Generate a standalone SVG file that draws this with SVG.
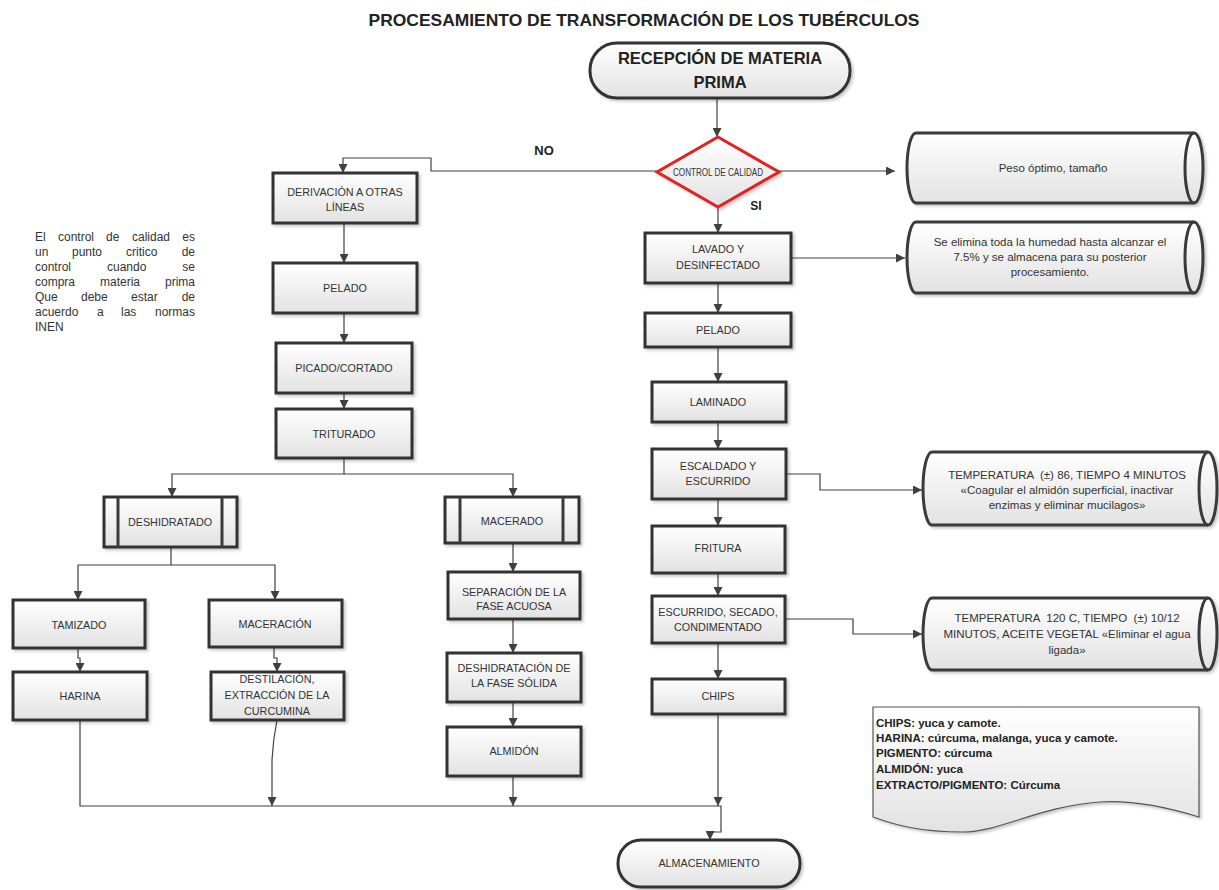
<svg xmlns="http://www.w3.org/2000/svg" width="1219" height="890" viewBox="0 0 1219 890">
<defs>
<linearGradient id="g" x1="0" y1="0" x2="0" y2="1">
<stop offset="0" stop-color="#ffffff"/>
<stop offset="1" stop-color="#e2e2e2"/>
</linearGradient>
<filter id="sh" x="-10%" y="-10%" width="130%" height="150%">
<feDropShadow dx="2" dy="2" stdDeviation="1.5" flood-color="#000" flood-opacity="0.22"/>
</filter>
<marker id="ar" viewBox="0 0 10 10" refX="10" refY="5" markerWidth="9" markerHeight="9" markerUnits="userSpaceOnUse" orient="auto">
<path d="M0,0 L10,5 L0,10 z" fill="#404040"/>
</marker>
</defs>
<style>
.box{fill:url(#g);stroke:#333;stroke-width:3;filter:url(#sh)}
.cyl{fill:url(#g);stroke:#3a3a3a;stroke-width:3;filter:url(#sh)}
.in{fill:none;stroke:#3a3a3a;stroke-width:3}
.t{font-family:'Liberation Sans',Arial,sans-serif;font-size:10.8px;fill:#333;text-anchor:middle;dominant-baseline:central}
.tb{font-family:'Liberation Sans',Arial,sans-serif;font-weight:bold;fill:#222;text-anchor:middle;dominant-baseline:central}
.c{font-family:'Liberation Sans',Arial,sans-serif;font-size:11.5px;fill:#333;text-anchor:middle;dominant-baseline:central;white-space:pre}
.n{font-family:'Liberation Sans',Arial,sans-serif;font-size:12px;fill:#333;dominant-baseline:central}
.d{font-family:'Liberation Sans',Arial,sans-serif;font-size:11.5px;font-weight:bold;fill:#222;dominant-baseline:central}
.conn path{fill:none;stroke:#404040;stroke-width:1.2}
</style>
<rect width="1219" height="890" fill="#ffffff"/>

<text class="tb" x="644" y="20" font-size="17.3" textLength="551" lengthAdjust="spacingAndGlyphs">PROCESAMIENTO DE TRANSFORMACIÓN DE LOS TUBÉRCULOS</text>

<g id="connectors" class="conn">
<path d="M717,98 V137" marker-end="url(#ar)"/>
<path d="M657,171 H431 V158 H343 V173" marker-end="url(#ar)"/>
<path d="M779,171 H895" marker-end="url(#ar)"/>
<path d="M718,207 V233" marker-end="url(#ar)"/>
<path d="M791,258 H905" marker-end="url(#ar)"/>
<path d="M718,283 V313" marker-end="url(#ar)"/>
<path d="M718,347 V382" marker-end="url(#ar)"/>
<path d="M718,422 V449" marker-end="url(#ar)"/>
<path d="M786,474 H820 V490 H922" marker-end="url(#ar)"/>
<path d="M718,499 V526" marker-end="url(#ar)"/>
<path d="M718,573 V596" marker-end="url(#ar)"/>
<path d="M785,619 H853 V634 H922" marker-end="url(#ar)"/>
<path d="M718,643 V679" marker-end="url(#ar)"/>
<path d="M718,714 V806" marker-end="url(#ar)"/>
<path d="M344,223 V263" marker-end="url(#ar)"/>
<path d="M344,313 V343" marker-end="url(#ar)"/>
<path d="M344,393 V409" marker-end="url(#ar)"/>
<path d="M344,458 V474 H172 V497" marker-end="url(#ar)"/>
<path d="M344,474 H513 V497" marker-end="url(#ar)"/>
<path d="M171,547 V565 H78 V600" marker-end="url(#ar)"/>
<path d="M171,565 H275 V600" marker-end="url(#ar)"/>
<path d="M78,648 V658 H80 V672" marker-end="url(#ar)"/>
<path d="M274,647 V658 H277 V672" marker-end="url(#ar)"/>
<path d="M513,543 V572" marker-end="url(#ar)"/>
<path d="M513,619 V653" marker-end="url(#ar)"/>
<path d="M513,702 V727" marker-end="url(#ar)"/>
<path d="M513,776 V806" marker-end="url(#ar)"/>
<path d="M80,720 V806 H721 V832 H710 V840" marker-end="url(#ar)"/>
<path d="M277,720 Q273,740 272,760 V806" marker-end="url(#ar)"/>
</g>

<text class="tb" x="544" y="150" font-size="13">NO</text>
<text class="tb" x="756" y="206" font-size="12">SI</text>

<g id="recepcion">
<rect class="box" x="590" y="43" width="260" height="55" rx="27"/>
<text class="tb" x="720" y="58" font-size="16.5">RECEPCIÓN DE MATERIA</text>
<text class="tb" x="720" y="82" font-size="16.5">PRIMA</text>
</g>

<g id="control">
<path d="M718,137 L779,172 L718,207 L657,172 Z" fill="url(#g)" stroke="#e02424" stroke-width="3" filter="url(#sh)"/>
<text class="t" x="718" y="172" font-size="7.2" textLength="90" lengthAdjust="spacingAndGlyphs">CONTROL DE CALIDAD</text>
</g>

<g id="cyl1">
<path class="cyl" d="M916,133 H1194 A9,35 0 0 1 1194,203 H916 A9,35 0 0 1 916,133 Z"/>
<path class="in" d="M1194,133 A9,35 0 0 0 1194,203"/>
<text class="c" x="1053" y="168" font-size="12.5">Peso óptimo, tamaño</text>
</g>

<g id="cyl2">
<path class="cyl" d="M916,222 H1194 A9,35.5 0 0 1 1194,293 H916 A9,35.5 0 0 1 916,222 Z"/>
<path class="in" d="M1194,222 A9,35.5 0 0 0 1194,293"/>
<text class="c" x="1050" y="242" font-size="12.3">Se elimina toda la humedad hasta alcanzar el</text>
<text class="c" x="1050" y="257" font-size="12.3">7.5% y se almacena para su posterior</text>
<text class="c" x="1050" y="272" font-size="12.3">procesamiento.</text>
</g>

<g id="cyl3">
<path class="cyl" d="M932,452 H1208 A9,36.5 0 0 1 1208,525 H932 A9,36.5 0 0 1 932,452 Z"/>
<path class="in" d="M1208,452 A9,36.5 0 0 0 1208,525"/>
<text class="c" x="1067" y="475">TEMPERATURA  (±) 86, TIEMPO 4 MINUTOS</text>
<text class="c" x="1067" y="490">«Coagular el almidón superficial, inactivar</text>
<text class="c" x="1067" y="505">enzimas y eliminar mucilagos»</text>
</g>

<g id="cyl4">
<path class="cyl" d="M932,598 H1208 A9,36 0 0 1 1208,670 H932 A9,36 0 0 1 932,598 Z"/>
<path class="in" d="M1208,598 A9,36 0 0 0 1208,670"/>
<text class="c" x="1067" y="618">TEMPERATURA  120 C, TIEMPO  (±) 10/12</text>
<text class="c" x="1067" y="634">MINUTOS, ACEITE VEGETAL «Eliminar el agua</text>
<text class="c" x="1067" y="650">ligada»</text>
</g>

<g id="lavado">
<rect class="box" x="645" y="233" width="146" height="50"/>
<text class="t" x="718" y="249">LAVADO Y</text>
<text class="t" x="718" y="265">DESINFECTADO</text>
</g>
<g id="pelado-r">
<rect class="box" x="645" y="313" width="146" height="34"/>
<text class="t" x="718" y="330">PELADO</text>
</g>
<g id="laminado">
<rect class="box" x="652" y="382" width="134" height="40"/>
<text class="t" x="718" y="402">LAMINADO</text>
</g>
<g id="escaldado">
<rect class="box" x="652" y="449" width="134" height="50"/>
<text class="t" x="718" y="466">ESCALDADO Y</text>
<text class="t" x="718" y="481">ESCURRIDO</text>
</g>
<g id="fritura">
<rect class="box" x="652" y="526" width="133" height="47"/>
<text class="t" x="718" y="548">FRITURA</text>
</g>
<g id="escurrido">
<rect class="box" x="652" y="596" width="133" height="47"/>
<text class="t" x="718" y="612">ESCURRIDO, SECADO,</text>
<text class="t" x="718" y="627">CONDIMENTADO</text>
</g>
<g id="chips">
<rect class="box" x="652" y="679" width="133" height="35"/>
<text class="t" x="718" y="696">CHIPS</text>
</g>

<g id="derivacion">
<rect class="box" x="273" y="173" width="144" height="50"/>
<text class="t" x="345" y="192">DERIVACIÓN A OTRAS</text>
<text class="t" x="345" y="207">LÍNEAS</text>
</g>
<g id="pelado-l">
<rect class="box" x="273" y="263" width="144" height="50"/>
<text class="t" x="345" y="288">PELADO</text>
</g>
<g id="picado">
<rect class="box" x="276" y="343" width="136" height="50"/>
<text class="t" x="344" y="368">PICADO/CORTADO</text>
</g>
<g id="triturado">
<rect class="box" x="276" y="409" width="136" height="49"/>
<text class="t" x="344" y="434">TRITURADO</text>
</g>

<g id="deshidratado">
<rect class="box" x="104" y="497" width="133" height="50"/>
<line class="in" x1="118" y1="497" x2="118" y2="547"/>
<line class="in" x1="222" y1="497" x2="222" y2="547"/>
<text class="t" x="170" y="522">DESHIDRATADO</text>
</g>
<g id="macerado">
<rect class="box" x="445" y="497" width="134" height="46"/>
<line class="in" x1="460" y1="497" x2="460" y2="543"/>
<line class="in" x1="563" y1="497" x2="563" y2="543"/>
<text class="t" x="512" y="521">MACERADO</text>
</g>

<g id="tamizado">
<rect class="box" x="13" y="600" width="132" height="48"/>
<text class="t" x="79" y="625">TAMIZADO</text>
</g>
<g id="maceracion">
<rect class="box" x="209" y="600" width="133" height="47"/>
<text class="t" x="275" y="624">MACERACIÓN</text>
</g>
<g id="harina">
<rect class="box" x="13" y="672" width="134" height="48"/>
<text class="t" x="80" y="696">HARINA</text>
</g>
<g id="destilacion">
<rect class="box" x="211" y="672" width="133" height="48"/>
<text class="t" x="277" y="679">DESTILACIÓN,</text>
<text class="t" x="277" y="695">EXTRACCIÓN DE LA</text>
<text class="t" x="277" y="711">CURCUMINA</text>
</g>

<g id="separacion">
<rect class="box" x="448" y="572" width="132" height="47"/>
<text class="t" x="514" y="592">SEPARACIÓN DE LA</text>
<text class="t" x="514" y="606">FASE ACUOSA</text>
</g>
<g id="deshidratacion">
<rect class="box" x="447" y="653" width="134" height="49"/>
<text class="t" x="514" y="668">DESHIDRATACIÓN DE</text>
<text class="t" x="514" y="683">LA FASE SÓLIDA</text>
</g>
<g id="almidon">
<rect class="box" x="447" y="727" width="134" height="49"/>
<text class="t" x="514" y="751">ALMIDÓN</text>
</g>

<g id="almacenamiento">
<rect class="box" x="618" y="840" width="182" height="47" rx="23"/>
<text class="t" x="709" y="863" font-size="11">ALMACENAMIENTO</text>
</g>

<g id="nota-control">
<text class="n"><tspan x="35" y="237">El</tspan><tspan x="58" y="237">control</tspan><tspan x="106" y="237">de</tspan><tspan x="132" y="237">calidad</tspan><tspan x="195" y="237" text-anchor="end">es</tspan></text>
<text class="n"><tspan x="35" y="252">un</tspan><tspan x="72" y="252">punto</tspan><tspan x="126" y="252">critico</tspan><tspan x="195" y="252" text-anchor="end">de</tspan></text>
<text class="n"><tspan x="35" y="267">control</tspan><tspan x="107" y="267">cuando</tspan><tspan x="195" y="267" text-anchor="end">se</tspan></text>
<text class="n"><tspan x="35" y="282">compra</tspan><tspan x="100" y="282">materia</tspan><tspan x="195" y="282" text-anchor="end">prima</tspan></text>
<text class="n"><tspan x="35" y="297">Que</tspan><tspan x="81" y="297">debe</tspan><tspan x="131" y="297">estar</tspan><tspan x="195" y="297" text-anchor="end">de</tspan></text>
<text class="n"><tspan x="35" y="312">acuerdo</tspan><tspan x="97" y="312">a</tspan><tspan x="121" y="312">las</tspan><tspan x="195" y="312" text-anchor="end">normas</tspan></text>
<text class="n" x="35" y="327">INEN</text>
</g>

<g id="nota-productos">
<path d="M873,707 H1199 V817 C1160,805 1130,800 1100,802 C1040,806 1000,832 963,832 C920,832 895,825 873,817 Z" fill="url(#g)" stroke="#555" stroke-width="1.2" filter="url(#sh)"/>
<text class="d" x="876" y="723">CHIPS: yuca y camote.</text>
<text class="d" x="876" y="738">HARINA: cúrcuma, malanga, yuca y camote.</text>
<text class="d" x="876" y="753">PIGMENTO: cúrcuma</text>
<text class="d" x="876" y="769">ALMIDÓN: yuca</text>
<text class="d" x="876" y="785">EXTRACTO/PIGMENTO: Cúrcuma</text>
</g>
</svg>
